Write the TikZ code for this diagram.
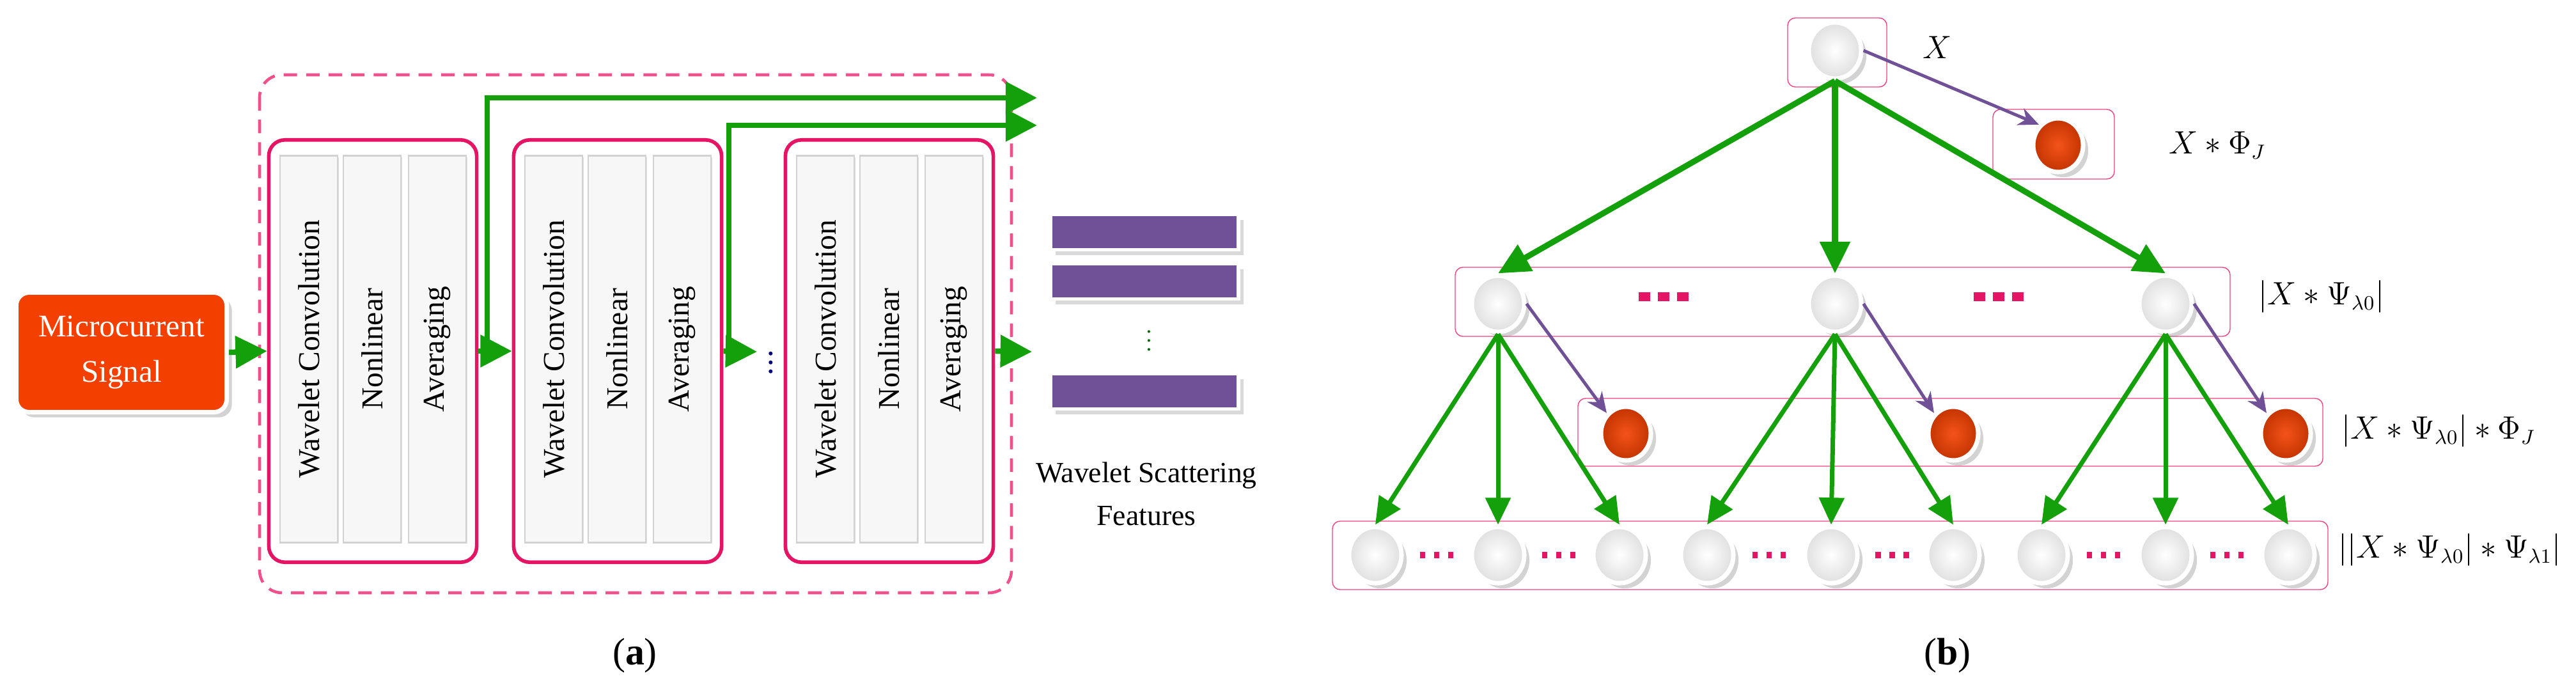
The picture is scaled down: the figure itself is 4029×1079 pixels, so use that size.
\documentclass[tikz,border=0pt]{standalone}
\usepackage{fontspec}
\setmainfont{Liberation Serif}
\usetikzlibrary{arrows.meta,shadows}
\definecolor{gr}{RGB}{20,160,10}
\definecolor{pk}{RGB}{230,20,100}
\definecolor{pkd}{RGB}{240,80,140}
\definecolor{rd}{RGB}{243,64,0}
\definecolor{pu}{RGB}{112,80,150}
\tikzset{
 garr/.style={draw=gr,line width=2.4pt,-{Triangle[length=14pt,width=14pt]}},
 garrb/.style={draw=gr,line width=2.6pt,-{Triangle[length=14pt,width=13pt]}},
 garrs/.style={draw=gr,line width=2pt,-{Triangle[length=12pt,width=11pt]}},
 parr/.style={draw=pu,line width=1.4pt,-{Stealth[length=9pt,width=8pt]}},
 blk/.style={draw=pk,line width=1.6pt,rounded corners=0.25cm,minimum width=3.25cm,minimum height=6.6cm},
 col/.style={draw=gray!35,fill=gray!6,line width=0.8pt,minimum width=0.9cm,minimum height=6.04cm,drop shadow={opacity=0.25,shadow xshift=0.5pt,shadow yshift=-0.5pt}},
 ctext/.style={rotate=90,font=\fontsize{13.5}{16}\selectfont},
 wn/.style={ellipse,minimum width=0.82cm,minimum height=0.88cm,draw=white,line width=2pt,inner color=white,outer color=gray!25,drop shadow={opacity=0.35}},
 rn/.style={ellipse,minimum width=0.78cm,minimum height=0.84cm,draw=white,line width=2pt,inner color=rd!90,outer color=rd!80!black,drop shadow={opacity=0.35}},
 gbox/.style={draw=pk!80,line width=0.4pt,rounded corners=0.12cm},
 bar/.style={fill=pu,draw=white,line width=1.5pt,minimum width=2.94cm,minimum height=0.55cm,drop shadow={opacity=0.3}},
 rdot/.style={fill=pk,minimum width=5pt,minimum height=4pt,inner sep=0pt},
 lab/.style={font=\fontsize{13.5}{16}\selectfont,anchor=west},
}
\usetikzlibrary{shapes.geometric}
\begin{document}
\begin{tikzpicture}[x=0.01cm,y=-0.01cm]
\useasboundingbox (0,0) rectangle (4029,1079);
% ---------- panel (a)
\draw[pkd,dashed,line width=1.3pt,dash pattern=on 6pt off 4pt,rounded corners=0.35cm] (406,117) rectangle (1582,927);
\node[fill=rd,draw=white,line width=2pt,rounded corners=0.2cm,minimum width=3.29cm,minimum height=1.87cm,drop shadow={opacity=0.35},text=white,align=center,font=\fontsize{14}{20}\selectfont] (mic) at (190,551) {Microcurrent\\Signal};
\foreach \i/\bx in {1/421,2/804,3/1229}{
  \node[blk] (b\i) at (\bx+162,549) {};
  \node[col] (c\i a) at (\bx+62,546) {};
  \node[col] (c\i b) at (\bx+161,546) {};
  \node[col] (c\i c) at (\bx+263,546) {};
  \node[ctext] at (c\i a) {Wavelet Convolution};
  \node[ctext] at (c\i b) {Nonlinear};
  \node[ctext] at (c\i c) {Averaging};
}
\coordinate (tap1) at (762,550);
\coordinate (tap2) at (1140,550);
\coordinate (e2) at (1184,550);
\coordinate (e3) at (1614,550);
\coordinate (o1) at (1622,153);
\coordinate (o2) at (1622,196);
\draw[garr] (mic.east) -- (b1.west);
\draw[garr] (b1.east) -- (b2.west);
\draw[garr] (b2.east) -- (e2);
\draw[garr] (b3.east) -- (e3);
\draw[garr] (tap1) |- (o1);
\draw[garr] (tap2) |- (o2);
\node[text=blue!50!black,font=\Large] (vd1) at (1206,557) {$\vdots$};
\node[bar] (f1) at (1790,363) {};
\node[bar] (f2) at (1790,440) {};
\node[bar] (f3) at (1790,612) {};
\node[text=green!40!black] (vd2) at (1797,522) {$\vdots$};
\node[align=center,font=\fontsize{13}{19}\selectfont] (wsf) at (1793,772) {Wavelet Scattering\\Features};
\node[font=\fontsize{17}{20}\selectfont] (la) at (993,1025) {(\textbf{a})};
% ---------- panel (b)
\draw[gbox] (2796,28) rectangle (2951,136);
\draw[gbox] (3117,171) rectangle (3307,280);
\draw[gbox] (2276,418) rectangle (3488,526);
\draw[gbox] (2468,623) rectangle (3633,729);
\draw[gbox] (2084,815) rectangle (3641,922);
\node[wn] (r) at (2870,79) {};
\node[rn] (rp) at (3219,227) {};
\node[lab] (lX) at (2995,74) {$X$};
\node[lab] (lXp) at (3380,227) {$X*\Phi_J$};
\foreach \i/\x in {1/2343,2/2870,3/3387}{
  \node[wn] (m\i) at (\x,475) {};
}
\foreach \i/\x in {1/2543,2/3055,3/3575}{
  \node[rn] (p\i) at (\x,678) {};
}
\foreach \i/\x in {1/2151,2/2343,3/2533,4/2670,5/2864,6/3055,7/3193,8/3387,9/3579}{
  \node[wn] (l\i) at (\x,868) {};
}
\foreach \x in {2572,2602,2632,3096,3126,3156}{\node[rdot] at (\x,464) {};}
\foreach \a/\b in {1/2,2/3,4/5,5/6,7/8,8/9}{
  \path (l\a) -- node[pos=0.5,inner sep=0pt] (d\a\b) {} (l\b);
  \foreach \o in {-22,0,22}{\node[rdot,minimum width=2.5pt,minimum height=3pt] at ([xshift=\o*0.01cm]d\a\b) {};}
}
\node[lab] (lm) at (3520,464) {$\left|X*\Psi_{\lambda 0}\right|$};
\node[lab] (lp) at (3650,674) {$\left|X*\Psi_{\lambda 0}\right|*\Phi_J$};
\node[lab] (ll) at (3645,860) {$\left|\left|X*\Psi_{\lambda 0}\right|*\Psi_{\lambda 1}\right|$};
\draw[garrb] (r.south) -- (m1.north);
\draw[garrb] (r.south) -- (m2.north);
\draw[garrb] (r.south) -- (m3.north);
\draw[parr] (r.east) -- (rp.north west);
\foreach \i/\a/\b/\c in {1/1/2/3,2/4/5/6,3/7/8/9}{
  \draw[garrs] (m\i.south) -- (l\a.north);
  \draw[garrs] (m\i.south) -- (l\b.north);
  \draw[garrs] (m\i.south) -- (l\c.north);
  \draw[parr] (m\i.east) -- (p\i.north west);
}
\node[font=\fontsize{17}{20}\selectfont] (lb) at (3046,1025) {(\textbf{b})};
\end{tikzpicture}
\end{document}
